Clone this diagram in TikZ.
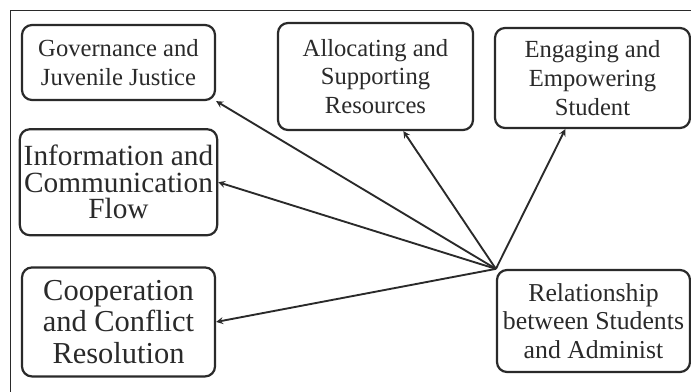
\documentclass[tikz,border=0pt]{standalone}
\usepackage{fontspec}
\setmainfont{Liberation Serif}
\usepackage{tikz}
\usetikzlibrary{arrows, positioning}
\definecolor{ink}{HTML}{2A2A2A}
\tikzstyle{topic} = [rectangle, 
minimum width=5.79cm, 
minimum height=2.25cm, 
align=center, 
draw=ink, 
line width=1.9pt, 
text=ink, 
fill=white, 
font=\fontsize{21}{24.5}\selectfont, 
rounded corners=0.3cm]
\tikzstyle{link} = [line width=1.6pt, draw=ink, ->, >=stealth]

\begin{document}
\begin{tikzpicture}
    \useasboundingbox (0,0) rectangle (20.73,-11.76);
    \draw [ink, line width=0.8pt] (0.3,-12.5) -- (0.3,-0.3) -- (21.5,-0.3);

    \node (gov) [topic] at (3.555,-1.875) {Governance and\\Juvenile Justice};
    \node (info) [topic, minimum height=3.18cm, below=0.81cm of gov, font=\fontsize{25}{22.6}\selectfont] {Information and\\Communication\\Flow};
    \node (coop) [topic, minimum height=3.27cm, below=0.9cm of info, font=\fontsize{26}{27}\selectfont] {Cooperation\\and Conflict\\Resolution};
    \node (alloc) [topic, minimum width=5.85cm, minimum height=3.21cm] at (11.265,-2.295) {Allocating and\\Supporting\\Resources};
    \node (engage) [topic, minimum width=5.85cm, minimum height=3cm] at (17.775,-2.34) {Engaging and\\Empowering\\Student};
    \node (rel) [topic, minimum height=3.06cm, font=\fontsize{22}{24.2}\selectfont] at (17.805,-9.63) {Relationship\\between Students\\and Administ};

    \draw [link] (rel.north west) -- (gov.south east);
    \draw [link] (rel.north west) -- (info.east);
    \draw [link] (rel.north west) -- (coop.east);
    \draw [link] (rel.north west) -- (alloc.-63);
    \draw [link] (rel.north west) -- (engage.-118);
\end{tikzpicture}
\end{document}
